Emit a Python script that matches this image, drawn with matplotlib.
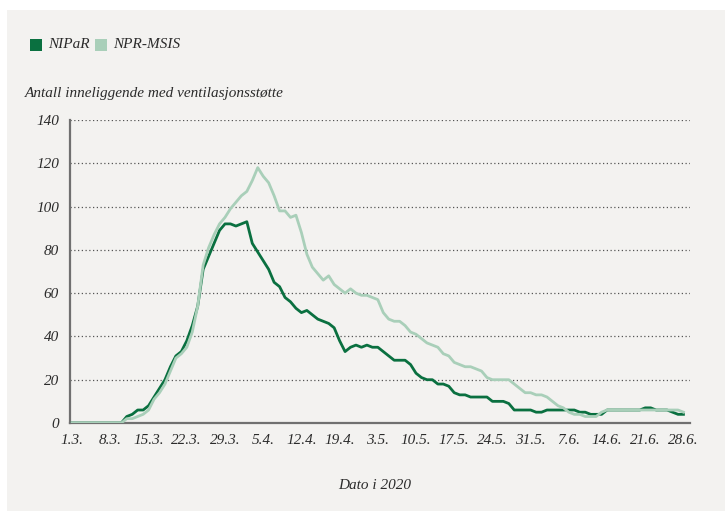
import matplotlib.pyplot as plt
from matplotlib.patches import Rectangle

# daily values, 1.3. -> 28.6. (one point per day on the chart's axis)
nipar = [0, 0, 0, 0, 0, 0, 0, 0, 0, 0,
         3, 4, 6, 6, 8, 12, 16, 20, 26, 31,
         33, 38, 45, 54, 71, 77, 83, 89, 92, 92,
         91, 92, 93, 83, 79, 75, 71, 65, 63, 58,
         56, 53, 51, 52, 50, 48, 47, 46, 44, 38,
         33, 35, 36, 35, 36, 35, 35, 33, 31, 29,
         29, 29, 27, 23, 21, 20, 20, 18, 18, 17,
         14, 13, 13, 12, 12, 12, 12, 10, 10, 10,
         9, 6, 6, 6, 6, 5, 5, 6, 6, 6,
         6, 6, 6, 5, 5, 4, 4, 4, 6, 6,
         6, 6, 6, 6, 6, 7, 7, 6, 6, 6,
         5, 4, 4]
npr_msis = [0, 0, 0, 0, 0, 0, 0, 0, 0, 0,
            2, 2, 3, 4, 6, 11, 14, 18, 24, 30,
            32, 35, 42, 54, 73, 81, 87, 92, 95, 99,
            102, 105, 107, 112, 118, 114, 111, 105, 98, 98,
            95, 96, 88, 78, 72, 69, 66, 68, 64, 62,
            60, 62, 60, 59, 59, 58, 57, 51, 48, 47,
            47, 45, 42, 41, 39, 37, 36, 35, 32, 31,
            28, 27, 26, 26, 25, 24, 21, 20, 20, 20,
            20, 18, 16, 14, 14, 13, 13, 12, 10, 8,
            7, 5, 4, 4, 3, 3, 3, 5, 6, 6,
            6, 6, 6, 6, 6, 6, 6, 6, 6, 6,
            6, 6, 5]
days = list(range(len(nipar)))

tick_labels = ['1.3.', '8.3.', '15.3.', '22.3.', '29.3.', '5.4.', '12.4.', '19.4.',
               '3.5.', '10.5.', '17.5.', '24.5.', '31.5.', '7.6.', '14.6.', '21.6.', '28.6.']
tick_pos = [i * 7 for i in range(len(tick_labels))]

dark = '#0a7040'
light = '#a9cfb9'
bg = '#f3f2f0'
txt = '#2b2b2b'
font = 'Liberation Serif'

fig = plt.figure(figsize=(7.25, 5.11), dpi=100)
fig.patch.set_facecolor('white')
# grey panel behind everything
fig.patches.append(Rectangle((7 / 725, 0), 1, 1 - 10 / 511, transform=fig.transFigure,
                             facecolor=bg, edgecolor='none', zorder=-10))

ax = fig.add_axes([70 / 725, 88 / 511, 620 / 725, 303 / 511])
ax.set_facecolor(bg)

ax.plot(days, nipar, color=dark, lw=2.0, solid_joinstyle='round', zorder=3)
ax.plot(days, npr_msis, color=light, lw=2.0, solid_joinstyle='round', zorder=3)

ax.set_xlim(-0.4, 113.2)
ax.set_ylim(0, 140)
ax.set_yticks(range(0, 141, 20))
ax.set_xticks(tick_pos)
ax.set_xticklabels(tick_labels)
ax.tick_params(length=0, labelsize=11, colors=txt, pad=8)
ax.tick_params(axis='y', pad=8)
for lab in ax.get_xticklabels() + ax.get_yticklabels():
    lab.set_fontfamily(font)
    lab.set_fontstyle('italic')

# dotted grid lines
for v in range(20, 141, 20):
    ax.axhline(v, color='#555555', lw=0.9, ls=(0, (1, 2)), zorder=1)

for s in ['top', 'right']:
    ax.spines[s].set_visible(False)
for s in ['left', 'bottom']:
    ax.spines[s].set_color('#707070')
    ax.spines[s].set_linewidth(1.6)

# legend
fig.patches.append(Rectangle((30 / 725, 1 - 51 / 511), 12 / 725, 12 / 511,
                             transform=fig.transFigure, facecolor=dark, edgecolor='none'))
fig.text(48 / 725, 1 - 45 / 511, 'NIPaR', fontsize=11, fontfamily=font, style='italic',
         color=txt, va='center')
fig.patches.append(Rectangle((95 / 725, 1 - 51 / 511), 12 / 725, 12 / 511,
                             transform=fig.transFigure, facecolor=light, edgecolor='none'))
fig.text(113 / 725, 1 - 45 / 511, 'NPR-MSIS', fontsize=11, fontfamily=font, style='italic',
         color=txt, va='center')

fig.text(25 / 725, 1 - 93 / 511, 'Antall inneliggende med ventilasjonsstøtte', fontsize=11,
         fontfamily=font, style='italic', color=txt, va='center')
fig.text(375 / 725, 1 - 485 / 511, 'Dato i 2020', fontsize=11, fontfamily=font,
         style='italic', color=txt, ha='center', va='center')

plt.savefig('out.png', dpi=100, facecolor=fig.get_facecolor())
